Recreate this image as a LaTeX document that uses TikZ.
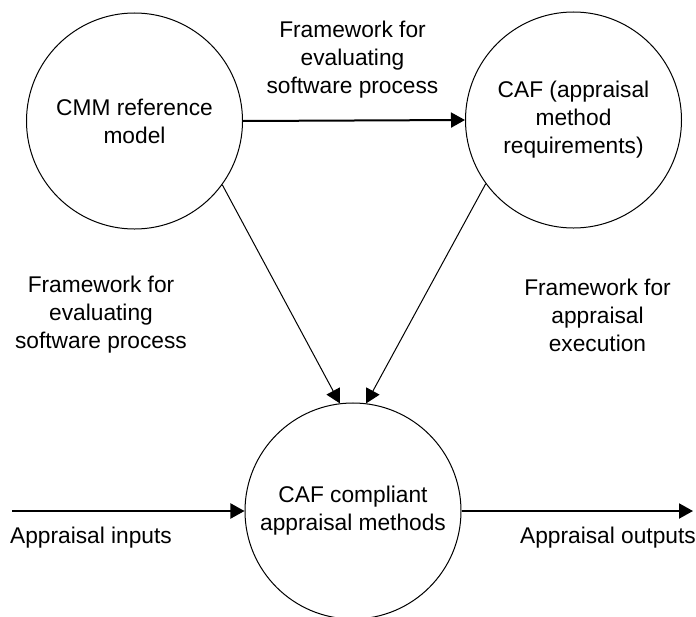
\documentclass[tikz,border=0pt]{standalone}
\usepackage{fontspec}
\setmainfont{Liberation Sans}
\usetikzlibrary{arrows.meta,positioning}
\tikzset
{
	procnode/.style = {circle, draw=black, line width=0.03cm, align=center, minimum size=6.48cm, inner sep=0pt, font=\fontsize{19.4}{24}\selectfont},
	flowlabel/.style = {align=center, inner sep=0pt, font=\fontsize{19.4}{24}\selectfont},
	flow/.style = {-{Triangle[length=0.42cm,width=0.45cm]}, line width=0.06cm},
	feed/.style = {-{Triangle[length=0.42cm,width=0.45cm]}, line width=0.03cm}
}

\begin{document}
\begin{tikzpicture}[x=0.03cm, y=-0.03cm]
\useasboundingbox (0,0) rectangle (696,617);
% processes
\node[procnode] (cmm) at (134.5,121) {CMM reference\\model};
\node[procnode] (caf) at (573.5,120) {CAF (appraisal\\method\\requirements)};
\node[procnode] (methods) at (353,511) {CAF compliant\\appraisal methods};
% flows
\draw[flow] (cmm.east) -- (caf.west);
\draw[feed] (cmm.-36.7) -- (methods.97);
\draw[feed] (caf.-144.6) -- (methods.83);
\coordinate (in) at (12,511);
\coordinate (out) at (693,511);
\draw[flow] (in) -- (methods.west);
\draw[flow] (methods.east) -- (out);
% labels
\node[flowlabel] (toplbl) at (352.5,60) {Framework for\\evaluating\\software process};
\node[flowlabel] (leftlbl) at (101,315) {Framework for\\evaluating\\software process};
\node[flowlabel] (rightlbl) at (597.5,315) {Framework for\\appraisal\\execution};
\node[flowlabel] (inlbl) at (91,538) {Appraisal inputs};
\node[flowlabel] (outlbl) at (608,538) {Appraisal outputs};
\end{tikzpicture}
\end{document}
